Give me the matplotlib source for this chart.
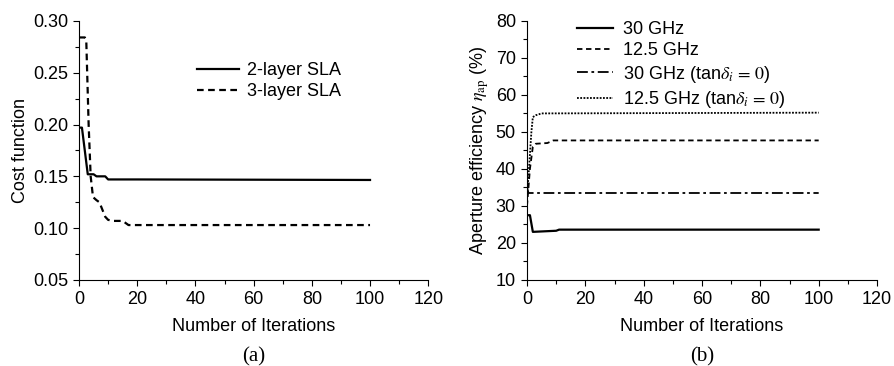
import matplotlib.pyplot as plt
from matplotlib.ticker import MultipleLocator

plt.rcParams['font.family'] = ['Liberation Sans', 'DejaVu Sans']
plt.rcParams['mathtext.fontset'] = 'stix'
plt.rcParams['font.size'] = 13

# (a) cost function vs iterations
it_2layer = [0, 1, 3, 5, 6, 9, 10, 20, 100]
cost_2layer = [0.197, 0.197, 0.152, 0.152, 0.150, 0.150, 0.147, 0.147, 0.1465]
it_3layer = [0, 2, 2.5, 3.3, 4, 4.8, 6, 7, 8, 9, 10, 12, 15, 17, 100]
cost_3layer = [0.284, 0.284, 0.28, 0.20, 0.15, 0.13, 0.127, 0.125, 0.118,
               0.111, 0.108, 0.107, 0.107, 0.103, 0.103]

# (b) aperture efficiency vs iterations
it_30 = [0, 1, 2, 10, 11, 100]
eff_30 = [27.5, 27.5, 23.0, 23.3, 23.6, 23.6]
it_125 = [0, 0.5, 1, 1.5, 2, 3, 7, 9, 100]
eff_125 = [30, 35, 40, 43, 46, 46.8, 47.0, 47.7, 47.7]
it_30_lossless = [0, 0.5, 1, 100]
eff_30_lossless = [35, 33.5, 33.5, 33.5]
it_125_lossless = [0, 0.5, 1, 1.5, 2, 3, 5, 100]
eff_125_lossless = [33, 38, 44, 50, 54, 54.5, 55, 55.2]

fig = plt.figure(figsize=(8.94, 3.66), dpi=100)
ax1 = fig.add_axes([0.0884, 0.235, 0.3906, 0.708])
ax2 = fig.add_axes([0.5895, 0.235, 0.3915, 0.708])

ax1.plot(it_2layer, cost_2layer, color='black', lw=1.6, label='2-layer SLA')
ax1.plot(it_3layer, cost_3layer, color='black', lw=1.6, ls=(0, (3, 2)),
         label='3-layer SLA')
ax1.set_xlim(0, 120)
ax1.set_ylim(0.05, 0.30)
ax1.xaxis.set_major_locator(MultipleLocator(20))
ax1.xaxis.set_minor_locator(MultipleLocator(10))
ax1.yaxis.set_major_locator(MultipleLocator(0.05))
ax1.yaxis.set_minor_locator(MultipleLocator(0.025))
ax1.yaxis.set_major_formatter(lambda v, pos: f'{v:.2f}')
ax1.set_xlabel('Number of Iterations', labelpad=7)
ax1.set_ylabel('Cost function', labelpad=3)
ax1.legend(loc='upper left', bbox_to_anchor=(0.338, 0.84), frameon=False,
           handlelength=2.3, handletextpad=0.45, labelspacing=0.2,
           borderpad=0, borderaxespad=0)

ax2.plot(it_30, eff_30, color='black', lw=1.6, label='30 GHz')
ax2.plot(it_125, eff_125, color='black', lw=1.3, ls=(0, (3, 2)),
         label='12.5 GHz')
ax2.plot(it_30_lossless, eff_30_lossless, color='black', lw=1.3,
         ls=(0, (6, 2, 1.5, 2)), label=r'30 GHz (tan$\delta_i\, =\, 0$)')
ax2.plot(it_125_lossless, eff_125_lossless, color='black', lw=1.3,
         ls=(0, (1, 0.8)), label=r'12.5 GHz (tan$\delta_i\, =\, 0$)')
ax2.set_xlim(0, 120)
ax2.set_ylim(10, 80)
ax2.xaxis.set_major_locator(MultipleLocator(20))
ax2.xaxis.set_minor_locator(MultipleLocator(10))
ax2.yaxis.set_major_locator(MultipleLocator(10))
ax2.yaxis.set_minor_locator(MultipleLocator(5))
ax2.set_xlabel('Number of Iterations', labelpad=7)
ax2.set_ylabel(r'Aperture efficiency $\eta_{\mathrm{ap}}$ (%)', labelpad=3)
ax2.legend(loc='upper left', bbox_to_anchor=(0.143, 1.0), frameon=False,
           handlelength=2.0, handletextpad=0.55, labelspacing=0.24,
           borderpad=0, borderaxespad=0)

fig.text(0.284, 0.0, '(a)', ha='center', va='bottom',
         family='Liberation Serif', fontsize=15)
fig.text(0.785, 0.0, '(b)', ha='center', va='bottom',
         family='Liberation Serif', fontsize=15)

for ax in (ax1, ax2):
    ax.spines['top'].set_visible(False)
    ax.spines['right'].set_visible(False)
    ax.tick_params(which='major', direction='out', length=4, width=0.8, pad=4)
    ax.tick_params(which='minor', direction='out', length=3, width=0.8)

fig.savefig('out.png', dpi=100)
